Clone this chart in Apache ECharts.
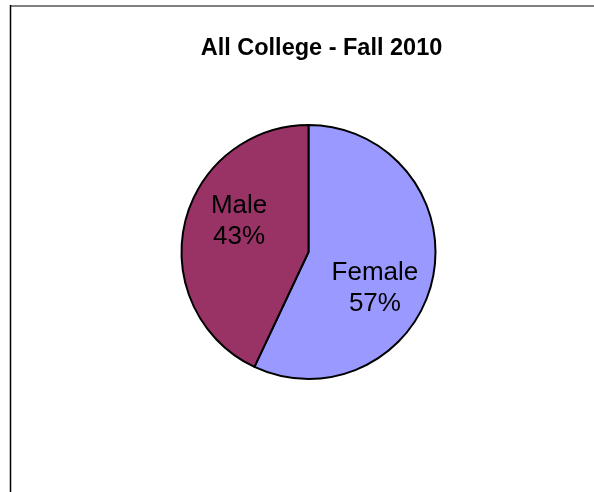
<!DOCTYPE html>
<html>
<head>
<meta charset="utf-8">
<script src="https://cdn.jsdelivr.net/npm/echarts@6/dist/echarts.min.js"></script>
<style>
html,body{margin:0;padding:0;background:#fff;}
#chart{width:594px;height:492px;}
</style>
</head>
<body>
<div id="chart"></div>
<script>
const chartTitle = "All College - Fall 2010";
const categories = ["Female", "Male"];
const values = [57, 43];
const colors = ["#9999FF", "#993366"];
const labelOffsets = [[1.5, 22], [-4.5, -16.5]];

const chart = echarts.init(document.getElementById('chart'), null, {renderer: 'canvas'});
const data = categories.map((c, i) => ({
  name: c,
  value: values[i],
  itemStyle: {color: colors[i]},
  label: {offset: labelOffsets[i]}
}));

chart.setOption({
  backgroundColor: '#ffffff',
  animation: false,
  title: {
    text: chartTitle,
    left: 316.5,
    textAlign: 'center',
    top: 32,
    textStyle: {
      fontFamily: 'Liberation Sans, Arial, sans-serif',
      fontWeight: 'bold',
      fontSize: 23.5,
      color: '#000'
    }
  },
  graphic: [
    {type: 'line', shape: {x1: 10, y1: 6, x2: 594, y2: 6}, style: {stroke: '#808080', lineWidth: 2}, silent: true},
    {type: 'line', shape: {x1: 10.5, y1: 5, x2: 10.5, y2: 492}, style: {stroke: '#000', lineWidth: 1.5}, silent: true}
  ],
  series: [{
    type: 'pie',
    center: [308.5, 252],
    radius: [0, 127],
    startAngle: 90,
    clockwise: true,
    avoidLabelOverlap: false,
    itemStyle: {borderColor: '#000', borderWidth: 2},
    label: {
      show: true,
      position: 'inside',
      formatter: '{b}\n{d}%',
      fontFamily: 'Liberation Sans, Arial, sans-serif',
      fontSize: 26,
      lineHeight: 31,
      color: '#000',
      align: 'center'
    },
    labelLine: {show: false},
    emphasis: {disabled: true},
    data: data
  }]
});
</script>
</body>
</html>
